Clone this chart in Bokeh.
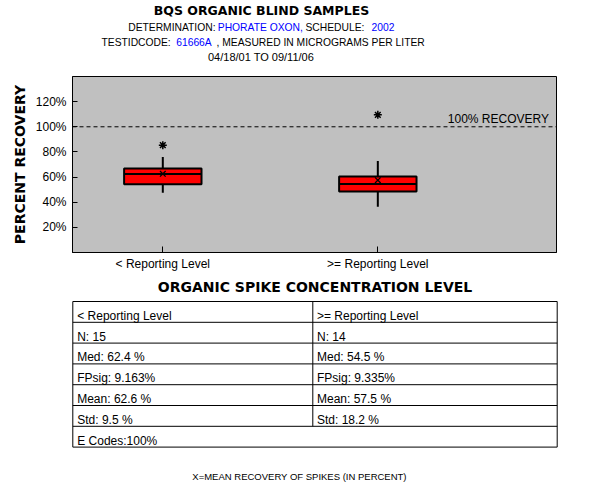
from bokeh.plotting import figure
from bokeh.models import Range1d, FixedTicker, PrintfTickFormatter, Span, Label
from bokeh.layouts import column
from bokeh.core.properties import value
from bokeh.embed import file_html
from bokeh.resources import INLINE

# ---------------- data ----------------
categories = ["< Reporting Level", ">= Reporting Level"]
positions = [1, 2]
q1 = [54.2, 48.6]
q3 = [66.9, 60.5]
median = [62.4, 54.5]
mean = [62.6, 57.5]
whisker_low = [47.5, 36.4]
whisker_high = [75.9, 72.7]
outlier_cat = [1, 2]
outlier_val = [85.4, 109.5]
y_ticks = [20, 40, 60, 80, 100, 120]
n_count = [15, 14]
fpsig = ["9.163", "9.335"]
std = [9.5, 18.2]
e_codes = "100%"

FONT = "Liberation Sans"
BOLD = "DejaVu Sans"
BLUE = "#0000FF"

# ---------------- header ----------------
H1 = 72
hdr = figure(width=600, height=H1, x_range=Range1d(0, 600), y_range=Range1d(H1, 0),
             min_border=0, toolbar_location=None, output_backend="svg",
             x_axis_location=None, y_axis_location=None, frame_align=False)
hdr.outline_line_color = None
hdr.grid.visible = False

hdr.text(x=[261], y=[10], text=["BQS ORGANIC BLIND SAMPLES"], text_font=value(BOLD),
         text_font_style="bold", text_font_size="12.5px", text_align="center",
         text_baseline="alphabetic", text_color="black")
segs = [
    (127.7, 26.7, "DETERMINATION:", "black"),
    (217.3, 26.7, "PHORATE OXON,", BLUE),
    (305.0, 26.7, "SCHEDULE:", "black"),
    (371.0, 26.7, "2002", BLUE),
    (101.0, 41.7, "TESTIDCODE:", "black"),
    (175.7, 41.7, "61666A", BLUE),
    (216.0, 41.7, ", MEASURED IN MICROGRAMS PER LITER", "black"),
]
hdr.text(x=[s[0] for s in segs], y=[s[1] for s in segs], text=[s[2] for s in segs],
         text_color=[s[3] for s in segs], text_font=value(FONT), text_font_size="10.3px",
         text_align="left", text_baseline="alphabetic")
hdr.text(x=[260.5], y=[56.7], text=["04/18/01 TO 09/11/06"], text_font=value(FONT),
         text_font_size="11px", text_align="center", text_baseline="alphabetic",
         text_color="black")

# ---------------- main plot ----------------
p = figure(width=600, height=203, x_range=Range1d(0.58, 2.831), y_range=Range1d(0, 140),
           min_border_left=72, min_border_right=44, min_border_top=4, min_border_bottom=23,
           toolbar_location=None, output_backend="svg", frame_align=False)
p.background_fill_color = "#C0C0C0"
p.border_fill_color = "white"
p.outline_line_color = "black"
p.grid.visible = False

p.xaxis.ticker = FixedTicker(ticks=positions)
p.xaxis.major_label_overrides = {pos: c for pos, c in zip(positions, categories)}
p.xaxis.major_tick_in = 6
p.xaxis.major_tick_out = 0
p.xaxis.minor_tick_line_color = None
p.xaxis.major_label_standoff = 4
p.xaxis.major_label_text_font = FONT
p.xaxis.major_label_text_font_size = "12px"
p.xaxis.major_label_text_color = "black"

p.yaxis.ticker = FixedTicker(ticks=y_ticks)
p.yaxis.formatter = PrintfTickFormatter(format="%d%%")
p.yaxis.major_tick_in = 5
p.yaxis.major_tick_out = 0
p.yaxis.minor_tick_line_color = None
p.yaxis.major_label_standoff = 6
p.yaxis.major_label_text_font = FONT
p.yaxis.major_label_text_font_size = "12px"
p.yaxis.major_label_text_color = "black"
p.yaxis.axis_label = "PERCENT RECOVERY"
p.yaxis.axis_label_text_font = BOLD
p.yaxis.axis_label_text_font_style = "bold"
p.yaxis.axis_label_text_font_size = "14px"
p.yaxis.axis_label_text_color = "black"
p.yaxis.axis_label_standoff = 5
for ax in (p.xaxis, p.yaxis):
    ax.axis_line_color = "black"
    ax.major_tick_line_color = "black"

p.add_layout(Span(location=100, dimension="width", line_color="black",
                  line_dash="4 3", line_width=1))
p.add_layout(Label(x=2.796, y=106.1, text="100% RECOVERY", text_align="right",
                   text_baseline="alphabetic", text_font=FONT, text_font_size="12px",
                   text_color="black"))

hw = 0.18
p.segment(x0=positions, y0=q3, x1=positions, y1=whisker_high, line_color="black", line_width=2)
p.segment(x0=positions, y0=q1, x1=positions, y1=whisker_low, line_color="black", line_width=2)
p.quad(left=[x - hw for x in positions], right=[x + hw for x in positions],
       bottom=q1, top=q3, fill_color="#FF0000", line_color="black", line_width=2)
p.segment(x0=[x - hw for x in positions], y0=median, x1=[x + hw for x in positions],
          y1=median, line_color="black", line_width=2)
p.scatter(x=positions, y=mean, marker="x", size=8, line_color="black", line_width=1.3)
p.scatter(x=outlier_cat, y=outlier_val, marker="asterisk", size=8, line_color="black",
          line_width=1.5)

# ---------------- table ----------------
H3 = 225
tb = figure(width=600, height=H3, x_range=Range1d(0, 600), y_range=Range1d(H3, 0),
            min_border=0, toolbar_location=None, output_backend="svg",
            x_axis_location=None, y_axis_location=None, frame_align=False)
tb.outline_line_color = None
tb.grid.visible = False

tb.text(x=[314.5], y=[11.7], text=["ORGANIC SPIKE CONCENTRATION LEVEL"], text_font=value(BOLD),
        text_font_style="bold", text_font_size="14px", text_align="center",
        text_baseline="alphabetic", text_color="black")

top, rh, left, right, mid = 26.0, 20.8, 72.3, 556.7, 312.3
nrows = 7
hx0, hy0, hx1, hy1 = [], [], [], []
for i in range(nrows + 1):
    y = top + i * rh
    hx0.append(left); hx1.append(right); hy0.append(y); hy1.append(y)
hx0 += [left, right, mid]
hx1 += [left, right, mid]
hy0 += [top, top, top]
hy1 += [top + nrows * rh, top + nrows * rh, top + (nrows - 1) * rh]
tb.segment(x0=hx0, y0=hy0, x1=hx1, y1=hy1, line_color="black", line_width=1)

cells_x, cells_y, cells_t = [], [], []
for j in range(2):
    col = [categories[j], f"N: {n_count[j]}", f"Med: {median[j]} %", f"FPsig: {fpsig[j]}%",
           f"Mean: {mean[j]} %", f"Std: {std[j]:>4} %"]
    for i, t in enumerate(col):
        cells_x.append(left + 4.4 if j == 0 else mid + 4.2)
        cells_y.append(top + i * rh + 14.3)
        cells_t.append(t)
cells_x.append(left + 4.4)
cells_y.append(top + 6 * rh + 14.3)
cells_t.append(f"E Codes:{e_codes}")
tb.text(x=cells_x, y=cells_y, text=cells_t, text_font=value(FONT), text_font_size="12px",
        text_align="left", text_baseline="alphabetic", text_color="black")

tb.text(x=[299], y=[201.3], text=["X=MEAN RECOVERY OF SPIKES (IN PERCENT)"],
        text_font=value(FONT), text_font_size="9.5px", text_align="center",
        text_baseline="alphabetic", text_color="black")

layout = column(hdr, p, tb, spacing=0)
open("out.html", "w").write(file_html(layout, INLINE))
